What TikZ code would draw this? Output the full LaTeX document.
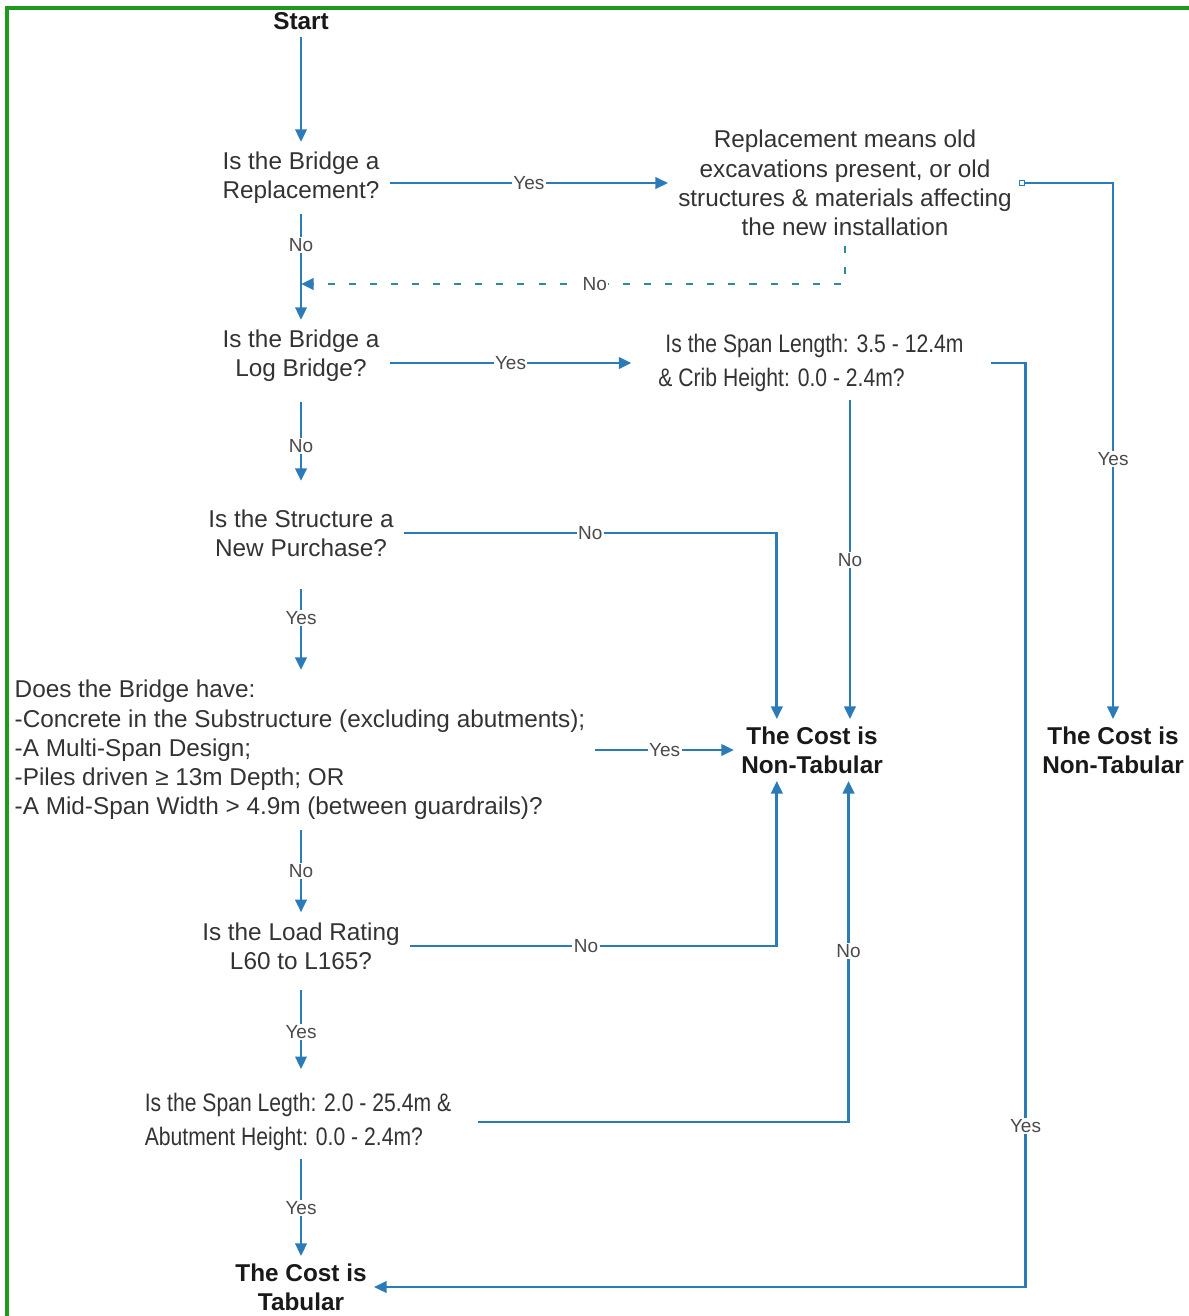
\documentclass[tikz,border=0pt]{standalone}
\usepackage{fontspec}
\setmainfont{Liberation Sans}
\newfontfamily\narrowfont[FakeStretch=0.835]{Liberation Sans}
\usetikzlibrary{arrows.meta}

\definecolor{flowblue}{HTML}{2B7BB9}
\definecolor{dashteal}{HTML}{2B8C9C}
\definecolor{textgray}{HTML}{333333}
\definecolor{lblgray}{HTML}{4A4A4A}
\definecolor{framegreen}{HTML}{1E9A1E}

\tikzset{
  box/.style={align=center, text=textgray, inner xsep=7pt, inner ysep=7pt,
    font=\fontsize{17.3}{20.8}\selectfont},
  narrowbox/.style={align=left, text=textgray, inner xsep=19pt, inner ysep=6pt,
    font=\narrowfont\fontsize{18}{24}\selectfont},
  result/.style={align=center, text=black!90, inner sep=5pt,
    font=\bfseries\fontsize{17.3}{20.8}\selectfont},
  arr/.style={draw=flowblue, line width=2.1pt,
    -{Triangle[length=9pt,width=8pt]}},
  dashline/.style={draw=dashteal, line width=2.1pt, dash pattern=on 5pt off 10pt,
    -{Triangle[length=9pt,width=8pt,color=flowblue]}},
  lbl/.style={fill=white, text=lblgray, inner sep=1pt,
    font=\fontsize{13.5}{15}\selectfont}
}

\begin{document}
\begin{tikzpicture}[x=0.025cm, y=-0.025cm]
  \useasboundingbox (0,0) rectangle (1189,1316);

  % Draw the green frame
  \draw[framegreen, line width=2.2pt] (7,1316) -- (7,8) -- (1189,8);

  % Draw the questions
  \node[result] (start) at (301,21) {Start};
  \node[box] (q1) at (301,178) {Is the Bridge a\\Replacement?};
  \node[box] (note) at (845,183) {Replacement means old\\excavations present, or old\\structures \& materials affecting\\the new installation};
  \node[box] (q2) at (301,356) {Is the Bridge a\\Log Bridge?};
  \node[narrowbox] (q3) at (811,363) {\hspace{5pt}Is the Span Length: 3.5 - 12.4m\\\& Crib Height: 0.0 - 2.4m?};
  \node[box] (q4) at (301,533) {Is the Structure a\\New Purchase?};
  \node[box, align=left] (q5) at (300,750) {Does the Bridge have:\\-Concrete in the Substructure (excluding abutments);\\-A Multi-Span Design;\\-Piles driven ≥ 13m Depth; OR\\-A Mid-Span Width > 4.9m (between guardrails)?};
  \node[box] (q6) at (301,946) {Is the Load Rating\\L60 to L165?};
  \node[narrowbox] (q7) at (298,1122) {Is the Span Legth: 2.0 - 25.4m \&\\Abutment Height: 0.0 - 2.4m?};

  % Draw the results
  \node[result] (tab) at (301,1287) {The Cost is\\Tabular};
  \node[result] (nt1) at (812,750) {The Cost is\\Non-Tabular};
  \node[result] (nt2) at (1113,750) {The Cost is\\Non-Tabular};

  % Entry points on the middle result
  \coordinate (n1tl) at ([xshift=-25pt]nt1.north);
  \coordinate (n1tr) at ([xshift=27pt]nt1.north);
  \coordinate (n1bl) at ([xshift=-25pt]nt1.south);
  \coordinate (n1br) at ([xshift=26pt]nt1.south);
  \coordinate (join) at (301,284);

  % Draw the main line down the left
  \draw[arr] (start) -- (q1);
  \draw[arr] (q1) -- node[lbl, pos=0.29]{No} (q2);
  \draw[arr, shorten <=7pt, shorten >=13pt] (q2) -- node[lbl]{No} (q4);
  \draw[arr, shorten <=16pt] (q4) -- node[lbl]{Yes} (q4 |- q5.north);
  \draw[arr] (q6 |- q5.south) -- node[lbl]{No} (q6);
  \draw[arr, shorten <=7pt, shorten >=11pt] (q6) -- node[lbl]{Yes} (q6 |- q7.north);
  \draw[arr] (tab |- q7.south) -- node[lbl]{Yes} (tab);

  % Draw the branches to the right
  \draw[arr] (q1.east |- note.west) -- node[lbl]{Yes} (note.west);
  \draw[arr] (note.east) -| node[lbl, pos=0.757]{Yes} (nt2);
  \node[draw=flowblue, fill=white, minimum size=4pt, inner sep=0pt, line width=0.6pt] (tap) at (note.east) {};
  \draw[dashline] (note.south) |- node[lbl, pos=0.73]{No} (join);
  \draw[arr] (q2.east |- q3.west) -- node[lbl]{Yes} (q3.west);
  \draw[arr] (q3.east) -- ++(35,0) |- node[lbl, pos=0.413]{Yes} (tab.east);
  \draw[arr] (n1tr |- q3.south) -- node[lbl]{No} (n1tr);
  \draw[arr] (q4.east) -| node[lbl, pos=0.25]{No} (n1tl);
  \draw[arr] (q5) -- node[lbl]{Yes} (nt1);
  \draw[arr] (q6.east) -| node[lbl, pos=0.24]{No} (n1bl);
  \draw[arr] (q7.east) -| node[lbl, pos=0.75]{No} (n1br);
\end{tikzpicture}
\end{document}
